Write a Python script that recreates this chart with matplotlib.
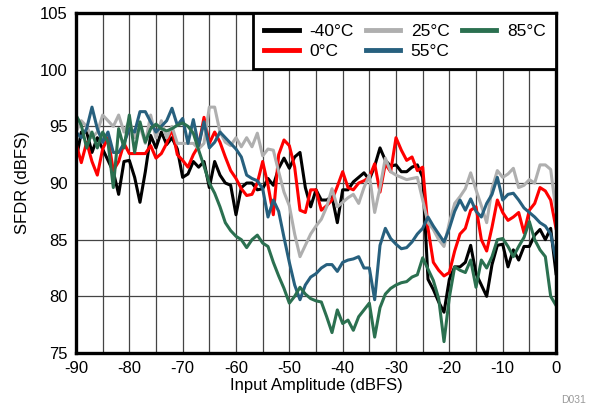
import numpy as np
import matplotlib.pyplot as plt

plt.rcParams['font.family'] = ['Liberation Sans', 'DejaVu Sans']
plt.rcParams['axes.unicode_minus'] = False

# input amplitude (dBFS), 1 dB steps
amp = np.arange(-90, 1)

sfdr_m40 = [92, 94.5, 94.5, 92.7, 94, 93, 92, 91, 89, 91.9,
            92, 90.5, 88.3, 91, 94.2, 93.1, 94.5, 93.4, 94, 93,
            90.5, 90.8, 91.9, 91.4, 91.9, 89.6, 91.9, 90.7, 90, 89.8,
            87.2, 89.6, 90, 90, 89.4, 89.5, 90.4, 89.8, 91.3, 92.2,
            91.3, 92.3, 92.7, 89.6, 87.9, 89.4, 88.5, 88.5, 88.8, 86.5,
            89.4, 89.4, 90.1, 90.5, 90.9, 90.3, 91.5, 93.1, 92, 91.5,
            91.6, 91, 91, 91.4, 91.6, 90.5, 81.5, 80.6, 79.5, 78.6,
            81.5, 82.6, 82.6, 83, 84.5, 82, 81, 80, 82.8, 84.5,
            84.6, 82.6, 84.1, 83.2, 84.4, 84.4, 85.4, 85.9, 85, 86,
            82]
sfdr_0 = [93.5, 91.8, 93.6, 91.9, 90.7, 93, 94, 91.1, 91.9, 93.5,
          92.6, 92.6, 92.6, 92.6, 93.3, 92.2, 92.6, 93.5, 94.8, 92.5,
          92, 91.4, 92.5, 93.3, 95.8, 93.5, 94.5, 93.6, 92.3, 91.1,
          90.4, 89.5, 88.9, 89, 90, 91.9, 89.8, 87.2, 92.5, 93.8,
          93.3, 91.4, 87.6, 87.4, 89.4, 89.4, 87.6, 88, 88.5, 89.7,
          91, 89.6, 89.4, 90, 90.2, 90.5, 91.7, 89.2, 91.7, 91,
          94, 92.9, 92, 92.3, 91.1, 91.4, 86, 83, 82.3, 81.8,
          82.1, 84, 85.5, 86, 87.6, 87.9, 85, 84, 86.1, 88.5,
          87.4, 86.7, 87, 87.4, 85.6, 87.6, 88.2, 89.6, 89.3, 88.5,
          86]
sfdr_25 = [94.5, 95.5, 95, 94, 94.5, 96, 95.5, 95, 96, 94.5,
           95.5, 94, 95, 93.5, 96, 94, 95.5, 94, 95, 93.5,
           93.5, 93.5, 93.5, 93, 93.5, 96.7, 96.7, 94.5, 93.6, 93.3,
           94, 93.2, 94, 93.2, 94.4, 92.4, 93, 92.9, 91, 89.2,
           88, 85.5, 83.5, 84.5, 85.5, 86.2, 86.8, 87.9, 89.5, 87.9,
           88.3, 88.7, 89, 88.2, 89.6, 90.7, 87.4, 89.6, 92.2, 91,
           90.7, 90.5, 90.3, 90.4, 90.5, 88.5, 86.5, 85.9, 85, 84.4,
           86.5, 88.2, 88.8, 89.5, 90.9, 89.4, 88, 86.5, 89.5, 91.1,
           90.5, 90.8, 91.3, 89.6, 89.8, 90.3, 90, 91.6, 91.6, 91.2,
           87.5]
sfdr_55 = [94.5, 94, 94.8, 96.7, 94.8, 93.6, 94.5, 92.7, 92.7, 93.5,
           94.8, 94.5, 96.3, 96.3, 95.4, 94.5, 95, 95.5, 96.6, 95.1,
           95.7, 93.5, 95.6, 93.3, 95.4, 93.1, 93.6, 94.5, 94, 93.5,
           93, 92.3, 90.7, 90.4, 90.2, 89.5, 87, 88.5, 87.5, 85.2,
           83, 81, 79.7, 81, 81.7, 82, 82.5, 82.8, 82.8, 82.2,
           83, 83.2, 83.3, 83.5, 82.5, 82.5, 79.7, 84.5, 86, 85.1,
           84.6, 84.2, 84.3, 84.8, 85.5, 86, 87, 86.2, 85.5, 84.8,
           86, 87.5, 88.5, 87.6, 88.6, 87.5, 87, 88.2, 89, 90.5,
           88.5, 89, 89.1, 88.5, 87.8, 87.4, 87, 86.5, 86.2, 85.5,
           83.2]
sfdr_85 = [96, 95.1, 93.1, 94.5, 93.1, 94.5, 93.6, 89.6, 94.8, 93.1,
           96, 92.7, 95.4, 93.6, 94.8, 95.2, 94.8, 94.6, 94.8, 95.1,
           95.3, 95, 94.4, 92.9, 91.5, 90, 89.1, 87.9, 86.5, 85.8,
           85.3, 85, 84.3, 85, 85.4, 84.7, 84.4, 83, 81.8, 80.7,
           79.4, 80, 80.8, 80.2, 79.8, 79.6, 79.5, 78.2, 76.8, 78.8,
           77.6, 77.9, 77, 78.2, 78.8, 79.4, 76.4, 79, 80.2, 80.7,
           81, 81.2, 81.3, 81.7, 81.9, 83.4, 82.4, 81.4, 79.8, 76,
           79.9, 82.6, 82.3, 82.1, 83.2, 80.8, 83.2, 82.5, 83.5, 85,
           85.1, 84.4, 83.5, 84.4, 85.2, 86.6, 85, 84.1, 83.5, 80,
           79.2]

labels = ['-40°C', '0°C', '25°C', '55°C', '85°C']
colors = ['black', '#FF0000', '#AFAFAF', '#27607E', '#2B7050']
series = [sfdr_m40, sfdr_0, sfdr_25, sfdr_55, sfdr_85]

fig = plt.figure(figsize=(5.89, 4.09), dpi=100)
ax = fig.add_axes([0.129, 0.137, 0.815, 0.831])

for s, c, lab in zip(series, colors, labels):
    ax.plot(amp, s, color=c, lw=2.2, label=lab)

ax.set_xlim(-90, 0)
ax.set_ylim(75, 105)
ax.set_xticks(np.arange(-90, 1, 10))
ax.set_xticks(np.arange(-85, 0, 10), minor=True)
ax.set_yticks(np.arange(75, 106, 5))
ax.grid(True, which='both', color='#444444', lw=0.9)
ax.set_axisbelow(True)
ax.tick_params(which='both', length=0, labelsize=12, pad=6)
for sp in ax.spines.values():
    sp.set_linewidth(2.4)

ax.set_xlabel('Input Amplitude (dBFS)', fontsize=12, labelpad=1)
ax.set_ylabel('SFDR (dBFS)', fontsize=12, labelpad=7)

leg = ax.legend(loc='upper right', ncol=3, fontsize=12.5, frameon=True,
                fancybox=False, borderaxespad=0, handlelength=2.0,
                columnspacing=0.7, handletextpad=0.6, labelspacing=0.3,
                borderpad=0.6)
leg.get_frame().set_edgecolor('black')
leg.get_frame().set_linewidth(2)
leg.get_frame().set_alpha(1)
for h in leg.get_lines():
    h.set_linewidth(3.5)

fig.text(0.995, 0.01, 'D031', fontsize=7.5, color='#999999', ha='right', va='bottom')

fig.savefig('out.png', dpi=100)
